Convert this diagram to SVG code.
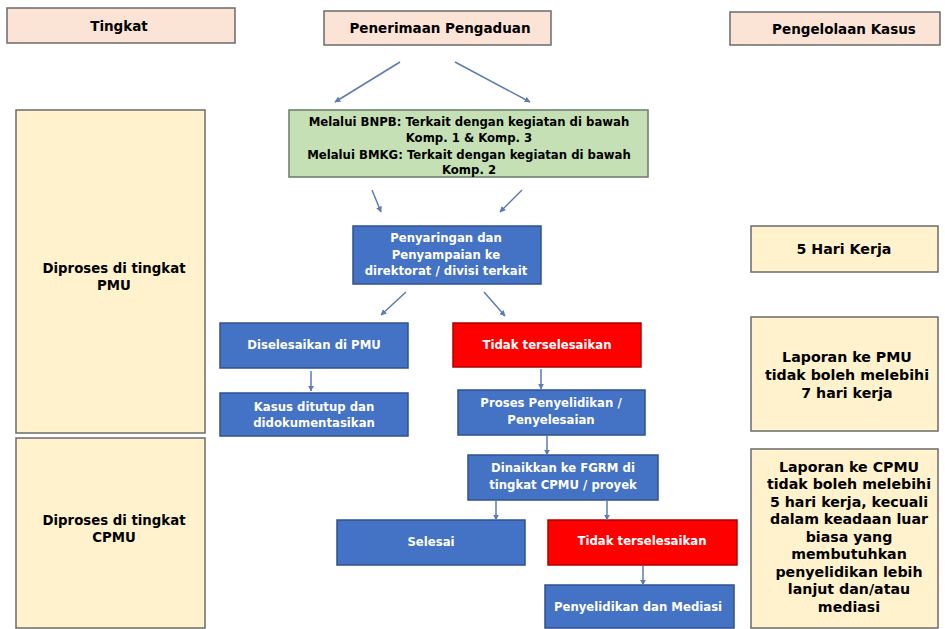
<svg xmlns="http://www.w3.org/2000/svg" width="945" height="629" viewBox="0 0 945 629">
<style>
text{font-family:"DejaVu Sans","Liberation Sans",sans-serif;font-weight:bold;text-anchor:middle}
.hd{fill:#FBE4D5;stroke:#6b6b6b;stroke-width:1.5}
.yl{fill:#FFF2CC;stroke:#6b6b6b;stroke-width:1.5}
.gr{fill:#C5E0B4;stroke:#6b7a6b;stroke-width:1.5}
.bl{fill:#4472C4;stroke:#2F528F;stroke-width:1.5}
.rd{fill:#FF0000;stroke:#B00000;stroke-width:1.5}
.h{fill:#000;font-size:13.5px}
.lf{fill:#000;font-size:13.3px}
.rt{fill:#000;font-size:14.2px}
.gt{fill:#000;font-size:11.7px}
.wt{fill:#fff;font-size:11.7px}
.cn line{stroke:#5B7DB1;stroke-width:1.5;marker-end:url(#ah)}
</style>
<defs>
<marker id="ah" viewBox="0 0 10 10" refX="9" refY="5" markerWidth="6" markerHeight="6" orient="auto" markerUnits="userSpaceOnUse"><path d="M0,0L10,5L0,10z" fill="#5B7DB1"/></marker>
</defs>
<rect width="945" height="629" fill="#fff"/>
<g id="tingkat"><rect class="hd" x="7" y="8" width="228" height="35"/><text class="h" x="119" y="31">Tingkat</text></g>
<g id="penerimaan"><rect class="hd" x="324" y="11" width="227" height="34"/><text class="h" x="440" y="33">Penerimaan Pengaduan</text></g>
<g id="pengelolaan"><rect class="hd" x="730" y="12" width="210" height="33"/><text class="h" x="844" y="34">Pengelolaan Kasus</text></g>
<g id="pmu-level"><rect class="yl" x="16" y="110" width="189" height="323"/><text class="lf" x="114" y="273">Diproses di tingkat</text><text class="lf" x="114" y="290">PMU</text></g>
<g id="cpmu-level"><rect class="yl" x="16" y="438" width="189" height="190"/><text class="lf" x="114" y="525">Diproses di tingkat</text><text class="lf" x="114" y="542">CPMU</text></g>
<g id="channels"><rect class="gr" x="289" y="110" width="359" height="67"/>
<text class="gt" x="469" y="126">Melalui BNPB: Terkait dengan kegiatan di bawah</text>
<text class="gt" x="469" y="142">Komp. 1 &amp; Komp. 3</text>
<text class="gt" x="469" y="159">Melalui BMKG: Terkait dengan kegiatan di bawah</text>
<text class="gt" x="469" y="174">Komp. 2</text></g>
<g id="screening"><rect class="bl" x="353" y="226" width="188" height="58"/>
<text class="wt" x="446" y="242">Penyaringan dan</text><text class="wt" x="446" y="259">Penyampaian ke</text><text class="wt" x="446" y="275">direktorat / divisi terkait</text></g>
<g id="resolved-pmu"><rect class="bl" x="220" y="323" width="188" height="45"/><text class="wt" x="314" y="349">Diselesaikan di PMU</text></g>
<g id="unresolved-1"><rect class="rd" x="453" y="323" width="188" height="44"/><text class="wt" x="547" y="349">Tidak terselesaikan</text></g>
<g id="closed"><rect class="bl" x="220" y="393" width="188" height="43"/><text class="wt" x="314" y="411">Kasus ditutup dan</text><text class="wt" x="314" y="427">didokumentasikan</text></g>
<g id="investigation"><rect class="bl" x="458" y="390" width="187" height="45"/><text class="wt" x="551" y="407">Proses Penyelidikan /</text><text class="wt" x="551" y="424">Penyelesaian</text></g>
<g id="escalated"><rect class="bl" x="468" y="455" width="190" height="45"/><text class="wt" x="563" y="472">Dinaikkan ke FGRM di</text><text class="wt" x="563" y="489">tingkat CPMU / proyek</text></g>
<g id="done"><rect class="bl" x="337" y="520" width="188" height="45"/><text class="wt" x="431" y="546">Selesai</text></g>
<g id="unresolved-2"><rect class="rd" x="548" y="520" width="189" height="45"/><text class="wt" x="642" y="545">Tidak terselesaikan</text></g>
<g id="mediation"><rect class="bl" x="545" y="585" width="189" height="43"/><text class="wt" x="638" y="611">Penyelidikan dan Mediasi</text></g>
<g id="five-days"><rect class="yl" x="751" y="226" width="187" height="46"/><text class="rt" x="844" y="254">5 Hari Kerja</text></g>
<g id="report-pmu"><rect class="yl" x="751" y="317" width="187" height="114"/>
<text class="rt" x="847" y="362">Laporan ke PMU</text><text class="rt" x="847" y="380">tidak boleh melebihi</text><text class="rt" x="847" y="398">7 hari kerja</text></g>
<g id="report-cpmu"><rect class="yl" x="751" y="449" width="187" height="179"/>
<text class="rt" x="849" y="472">Laporan ke CPMU</text>
<text class="rt" x="849" y="489">tidak boleh melebihi</text>
<text class="rt" x="849" y="507">5 hari kerja, kecuali</text>
<text class="rt" x="849" y="524">dalam keadaan luar</text>
<text class="rt" x="849" y="542">biasa yang</text>
<text class="rt" x="849" y="559">membutuhkan</text>
<text class="rt" x="849" y="577">penyelidikan lebih</text>
<text class="rt" x="849" y="594">lanjut dan/atau</text>
<text class="rt" x="849" y="612">mediasi</text></g>
<g id="connectors" class="cn">
<line x1="400" y1="62" x2="335" y2="102"/>
<line x1="455" y1="62" x2="530" y2="102"/>
<line x1="372" y1="190" x2="381" y2="212"/>
<line x1="522" y1="190" x2="500" y2="212"/>
<line x1="406" y1="292" x2="381" y2="315"/>
<line x1="484" y1="292" x2="505" y2="316"/>
<line x1="311" y1="371" x2="311" y2="391"/>
<line x1="541" y1="369" x2="541" y2="389"/>
<line x1="547" y1="436" x2="547" y2="455"/>
<line x1="496" y1="501" x2="496" y2="520"/>
<line x1="607" y1="501" x2="607" y2="520"/>
<line x1="643" y1="566" x2="643" y2="585"/>
</g>
</svg>
